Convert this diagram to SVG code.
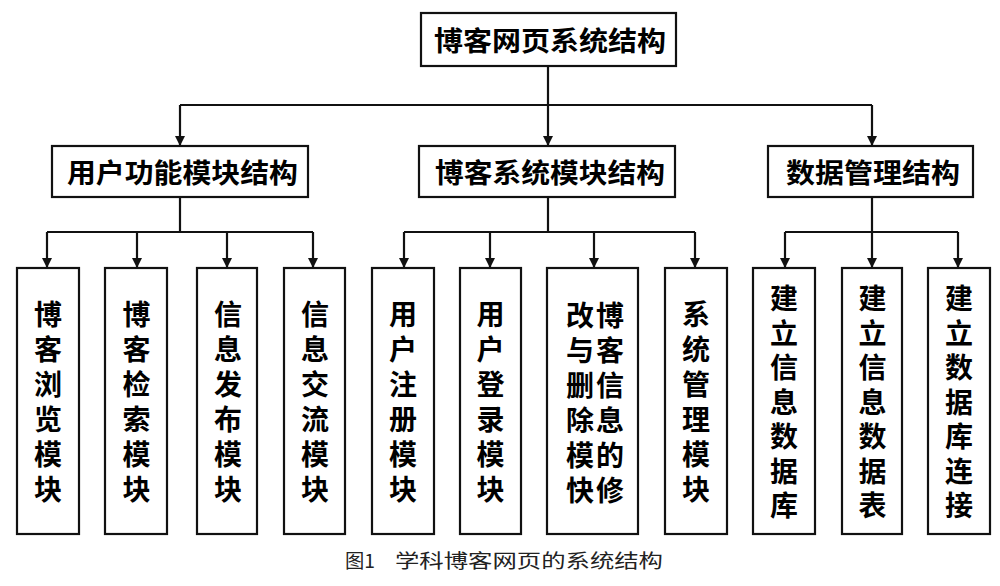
<svg xmlns="http://www.w3.org/2000/svg" width="1000" height="586" viewBox="0 0 1000 586">
<style>
.box{fill:#fff;stroke:#111;stroke-width:2.2}
.ln{fill:none;stroke:#111;stroke-width:2.2}
.arr{fill:none;stroke:#111;stroke-width:2.2;marker-end:url(#ah)}
.t{font-family:"Noto Sans CJK SC","Noto Sans CJK JP",sans-serif;font-weight:700;fill:#000;text-anchor:middle}
.h{font-size:27px}
.v{font-size:28px}
.cap{font-family:"Noto Sans CJK SC","Noto Sans CJK JP",sans-serif;font-size:19px;fill:#222}
</style>
<defs>
<marker id="ah" viewBox="0 0 10 10" refX="10" refY="5" markerWidth="11" markerHeight="10" markerUnits="userSpaceOnUse" orient="auto">
<path d="M0,0 L10,5 L0,10 z" fill="#111"/>
</marker>
</defs>
<rect width="1000" height="586" fill="#fff"/>
<g id="connectors">
<path class="ln" d="M548,66 V105 M180,105 H872"/>
<path class="arr" d="M180,105 V146"/>
<path class="arr" d="M548,105 V146"/>
<path class="arr" d="M872,105 V146"/>
<path class="ln" d="M180,197 V232 M47,232 H313"/>
<path class="arr" d="M47,232 V268"/>
<path class="arr" d="M137,232 V268"/>
<path class="arr" d="M227,232 V268"/>
<path class="arr" d="M313,232 V268"/>
<path class="ln" d="M548,197 V232 M404,232 H695"/>
<path class="arr" d="M404,232 V268"/>
<path class="arr" d="M490,232 V268"/>
<path class="arr" d="M594,232 V268"/>
<path class="arr" d="M695,232 V268"/>
<path class="ln" d="M872,197 V232 M785,232 H958"/>
<path class="arr" d="M785,232 V268"/>
<path class="arr" d="M872,232 V268"/>
<path class="arr" d="M958,232 V268"/>
</g>
<g id="root">
<rect class="box" x="421" y="13" width="255" height="53"/>
<text class="t h" x="550" y="51" textLength="232" lengthAdjust="spacingAndGlyphs">博客网页系统结构</text>
</g>
<g id="user-func">
<rect class="box" x="52" y="146" width="256" height="51"/>
<text class="t h" x="182.5" y="183" textLength="231" lengthAdjust="spacingAndGlyphs">用户功能模块结构</text>
</g>
<g id="blog-sys">
<rect class="box" x="419" y="146" width="256" height="51"/>
<text class="t h" x="550" y="183" textLength="230" lengthAdjust="spacingAndGlyphs">博客系统模块结构</text>
</g>
<g id="data-mgmt">
<rect class="box" x="768" y="146" width="205" height="51"/>
<text class="t h" x="873" y="183" textLength="174" lengthAdjust="spacingAndGlyphs">数据管理结构</text>
</g>
<g id="n1">
<rect class="box" x="17" y="268" width="62" height="266"/>
<text class="t v"><tspan x="48" y="325">博</tspan><tspan x="48" y="360">客</tspan><tspan x="48" y="395">浏</tspan><tspan x="48" y="430">览</tspan><tspan x="48" y="465">模</tspan><tspan x="48" y="500">块</tspan></text>
</g>
<g id="n2">
<rect class="box" x="105" y="268" width="62" height="266"/>
<text class="t v"><tspan x="136.5" y="325">博</tspan><tspan x="136.5" y="360">客</tspan><tspan x="136.5" y="395">检</tspan><tspan x="136.5" y="430">索</tspan><tspan x="136.5" y="465">模</tspan><tspan x="136.5" y="500">块</tspan></text>
</g>
<g id="n3">
<rect class="box" x="197" y="268" width="60" height="266"/>
<text class="t v"><tspan x="228" y="325">信</tspan><tspan x="228" y="360">息</tspan><tspan x="228" y="395">发</tspan><tspan x="228" y="430">布</tspan><tspan x="228" y="465">模</tspan><tspan x="228" y="500">块</tspan></text>
</g>
<g id="n4">
<rect class="box" x="284" y="268" width="61" height="266"/>
<text class="t v"><tspan x="315" y="325">信</tspan><tspan x="315" y="360">息</tspan><tspan x="315" y="395">交</tspan><tspan x="315" y="430">流</tspan><tspan x="315" y="465">模</tspan><tspan x="315" y="500">块</tspan></text>
</g>
<g id="n5">
<rect class="box" x="372" y="268" width="62" height="266"/>
<text class="t v"><tspan x="403" y="325">用</tspan><tspan x="403" y="360">户</tspan><tspan x="403" y="395">注</tspan><tspan x="403" y="430">册</tspan><tspan x="403" y="465">模</tspan><tspan x="403" y="500">块</tspan></text>
</g>
<g id="n6">
<rect class="box" x="460" y="268" width="61" height="266"/>
<text class="t v"><tspan x="490.5" y="325">用</tspan><tspan x="490.5" y="360">户</tspan><tspan x="490.5" y="395">登</tspan><tspan x="490.5" y="430">录</tspan><tspan x="490.5" y="465">模</tspan><tspan x="490.5" y="500">块</tspan></text>
</g>
<g id="n7">
<rect class="box" x="547" y="268" width="91" height="266"/>
<text class="t v"><tspan x="610" y="326">博</tspan><tspan x="610" y="361">客</tspan><tspan x="610" y="396">信</tspan><tspan x="610" y="431">息</tspan><tspan x="610" y="466">的</tspan><tspan x="610" y="501">修</tspan></text>
<text class="t v"><tspan x="580" y="326">改</tspan><tspan x="580" y="361">与</tspan><tspan x="580" y="396">删</tspan><tspan x="580" y="431">除</tspan><tspan x="580" y="466">模</tspan><tspan x="580" y="501">快</tspan></text>
</g>
<g id="n8">
<rect class="box" x="665" y="268" width="62" height="266"/>
<text class="t v"><tspan x="696" y="325">系</tspan><tspan x="696" y="360">统</tspan><tspan x="696" y="395">管</tspan><tspan x="696" y="430">理</tspan><tspan x="696" y="465">模</tspan><tspan x="696" y="500">块</tspan></text>
</g>
<g id="n9">
<rect class="box" x="753" y="268" width="62" height="266"/>
<text class="t v"><tspan x="784" y="309">建</tspan><tspan x="784" y="343.5">立</tspan><tspan x="784" y="378">信</tspan><tspan x="784" y="412.5">息</tspan><tspan x="784" y="447">数</tspan><tspan x="784" y="481.5">据</tspan><tspan x="784" y="516">库</tspan></text>
</g>
<g id="n10">
<rect class="box" x="842" y="268" width="60" height="266"/>
<text class="t v"><tspan x="872.5" y="309">建</tspan><tspan x="872.5" y="343.5">立</tspan><tspan x="872.5" y="378">信</tspan><tspan x="872.5" y="412.5">息</tspan><tspan x="872.5" y="447">数</tspan><tspan x="872.5" y="481.5">据</tspan><tspan x="872.5" y="516">表</tspan></text>
</g>
<g id="n11">
<rect class="box" x="928" y="268" width="62" height="266"/>
<text class="t v"><tspan x="959" y="309">建</tspan><tspan x="959" y="343.5">立</tspan><tspan x="959" y="378">数</tspan><tspan x="959" y="412.5">据</tspan><tspan x="959" y="447">库</tspan><tspan x="959" y="481.5">连</tspan><tspan x="959" y="516">接</tspan></text>
</g>
<g id="caption">
<text class="cap" x="345" y="568" textLength="30" lengthAdjust="spacingAndGlyphs">图1</text>
<text class="cap" x="395" y="568" textLength="268" lengthAdjust="spacingAndGlyphs">学科博客网页的系统结构</text>
</g>
</svg>
